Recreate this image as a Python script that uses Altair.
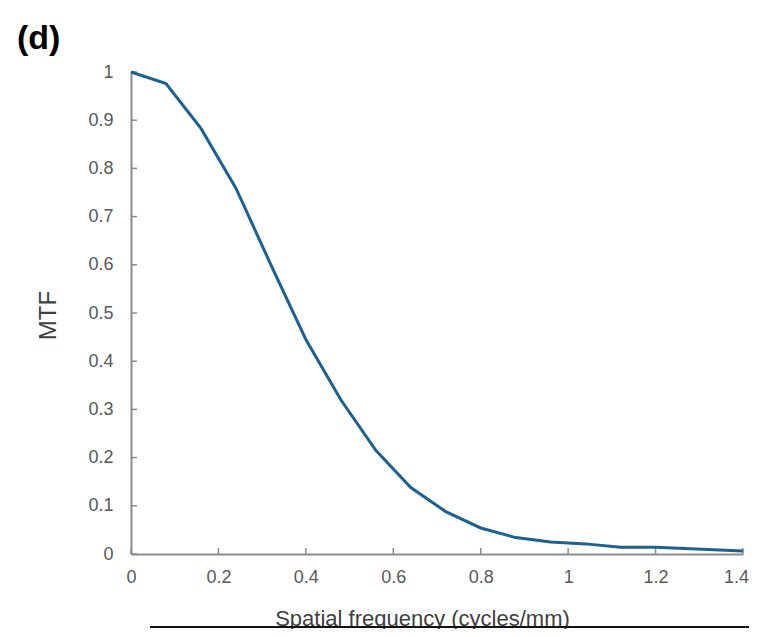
import altair as alt
import pandas as pd

# Data
freq = [0.0, 0.08, 0.16, 0.24, 0.32, 0.40, 0.48, 0.56, 0.64, 0.72, 0.80, 0.88,
        0.96, 1.04, 1.12, 1.20, 1.28, 1.36, 1.40]
mtf = [1.0, 0.976, 0.883, 0.759, 0.600, 0.445, 0.320, 0.215, 0.138, 0.088, 0.054,
       0.034, 0.025, 0.021, 0.014, 0.014, 0.011, 0.008, 0.006]
x_ticks = [0.0, 0.2, 0.4, 0.6, 0.8, 1.0, 1.2, 1.4]
y_ticks = [0.0, 0.1, 0.2, 0.3, 0.4, 0.5, 0.6, 0.7, 0.8, 0.9, 1.0]
panel_label = "(d)"

W, H = 612, 482
FONT = "Liberation Sans"

df = pd.DataFrame({"f": freq, "m": mtf})
xt = pd.DataFrame({"v": x_ticks})
yt = pd.DataFrame({"v": y_ticks})

xscale = alt.Scale(domain=[0, 1.4], nice=False, zero=False)
yscale = alt.Scale(domain=[0, 1], nice=False)

line = alt.Chart(df).mark_line(color="#1c6194", strokeWidth=3).encode(
    x=alt.X("f:Q", scale=xscale,
            axis=alt.Axis(values=x_ticks, format=".1~f", ticks=False, grid=False,
                          domainColor="#8c8c8c", domainWidth=2,
                          labelFont=FONT, labelFontSize=18, labelColor="#595959",
                          labelPadding=14, labelFlush=False, labelOverlap=False,
                          labelOffset={"condition": {"test": "datum.value >= 1.39", "value": -7},
                                       "value": 0},
                          title="Spatial frequency (cycles/mm)",
                          titleFont=FONT, titleFontSize=22, titleFontWeight="normal",
                          titleColor="#404040", titleX=291, titleY=71,
                          titleAlign="center", titleBaseline="alphabetic")),
    y=alt.Y("m:Q", scale=yscale,
            axis=alt.Axis(values=y_ticks, format=".1~f", ticks=False, grid=False,
                          domainColor="#8c8c8c", domainWidth=2,
                          labelFont=FONT, labelFontSize=18, labelColor="#595959",
                          labelPadding=18, labelFlush=False, labelOverlap=False,
                          title="MTF",
                          titleFont=FONT, titleFontSize=24, titleFontWeight="normal",
                          titleColor="#404040", titleX=-83, titleY=243,
                          titleAlign="center", titleBaseline="middle", titleAngle=270)),
)

ytick_marks = alt.Chart(yt).mark_rule(color="#8c8c8c", strokeWidth=1.5).encode(
    y=alt.Y("v:Q", scale=yscale),
    x=alt.value(0), x2=alt.value(6),
)
xtick_marks = alt.Chart(xt).mark_rule(color="#8c8c8c", strokeWidth=1.5).encode(
    x=alt.X("v:Q", scale=xscale),
    y=alt.value(H), y2=alt.value(H - 6),
)

label = alt.Chart(pd.DataFrame({"t": [panel_label]})).mark_text(
    font=FONT, fontSize=34, fontWeight="bold", align="left",
    baseline="alphabetic", color="#000000"
).encode(text="t:N", x=alt.value(-114), y=alt.value(-23))

bottom_rule = alt.Chart(pd.DataFrame({"a": [0]})).mark_rule(
    color="#111111", strokeWidth=2
).encode(x=alt.value(19), x2=alt.value(620), y=alt.value(555))

chart = alt.layer(ytick_marks, xtick_marks, line, label, bottom_rule).properties(
    width=W, height=H,
    background="white",
    autosize=alt.AutoSizeParams(type="none"),
    padding={"left": 123, "top": 64, "right": 6, "bottom": 75},
).configure_view(strokeWidth=0)

chart.save("out.html", embed_options={"renderer": "svg", "actions": False})
